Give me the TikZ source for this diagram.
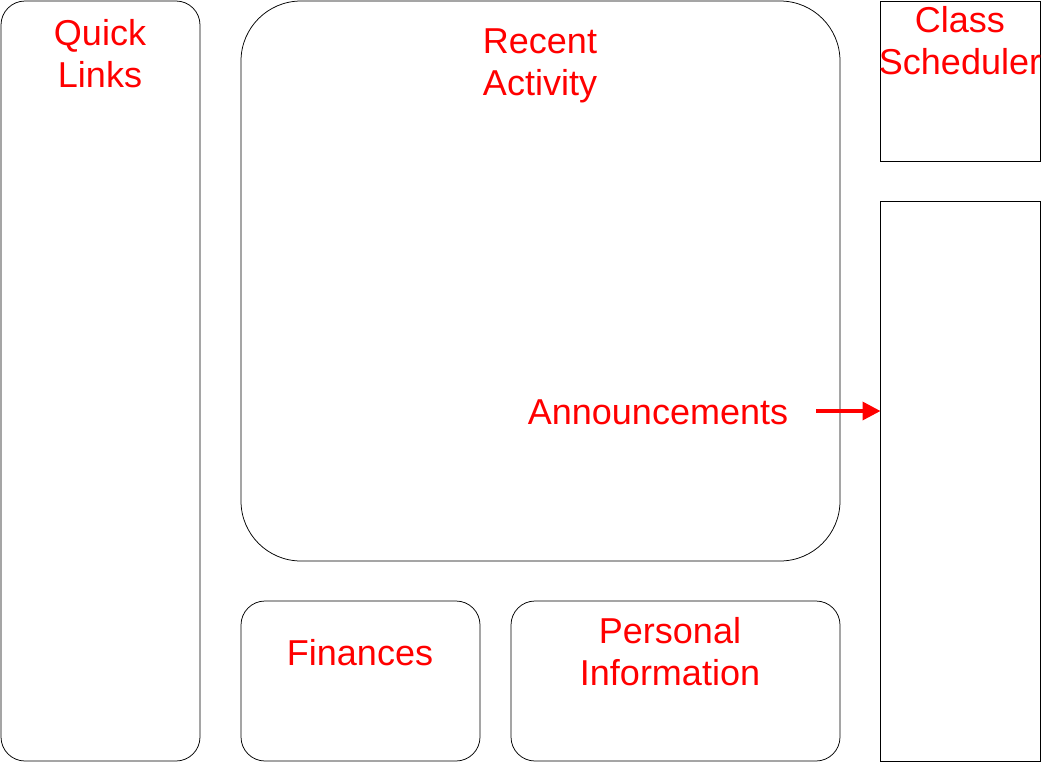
\documentclass[tikz,border=0pt]{standalone}
\usepackage{fontspec}
\setmainfont{Liberation Sans}
\usetikzlibrary{arrows.meta}
\begin{document}
\begin{tikzpicture}[x=1pt,y=-1pt,
  panel/.style={draw=black,line width=0.75pt},
  lbl/.style={text=red,font=\fontsize{36}{42}\selectfont,align=center,inner sep=0pt}]
\useasboundingbox (0,0) rectangle (1042,763);
\fill[white] (0,0) rectangle (1042,763);
% panels
\draw[panel,rounded corners=24pt] (1,1) rectangle (200,761);
\draw[panel,rounded corners=60pt] (241,1) rectangle (840,561);
\draw[panel] (880.5,1) rectangle (1040.5,161);
\draw[panel] (880.5,201) rectangle (1040.5,761);
\coordinate (annR) at (880.5,411);
\draw[panel,rounded corners=24pt] (241,601) rectangle (480,761);
\draw[panel,rounded corners=24pt] (511,601) rectangle (840,761);
% labels
\node[lbl] (ql) at (100,54) {Quick\\Links};
\node[lbl] (ra) at (540,66) {Recent\\Activity};
\node[lbl] (cs) at (960,41) {Class\\Scheduler};
\node[lbl,anchor=base] (fin) at (360,665) {Finances};
\node[lbl] (pi) at (670,652) {Personal\\Information};
\node[lbl,anchor=base] (ann) at (658,424) {Announcements};
\coordinate (annL) at (816,411);
\draw[red,line width=3.5pt,-{Triangle[length=18pt,width=18pt]}] (annL) -- (annR);
\end{tikzpicture}
\end{document}
